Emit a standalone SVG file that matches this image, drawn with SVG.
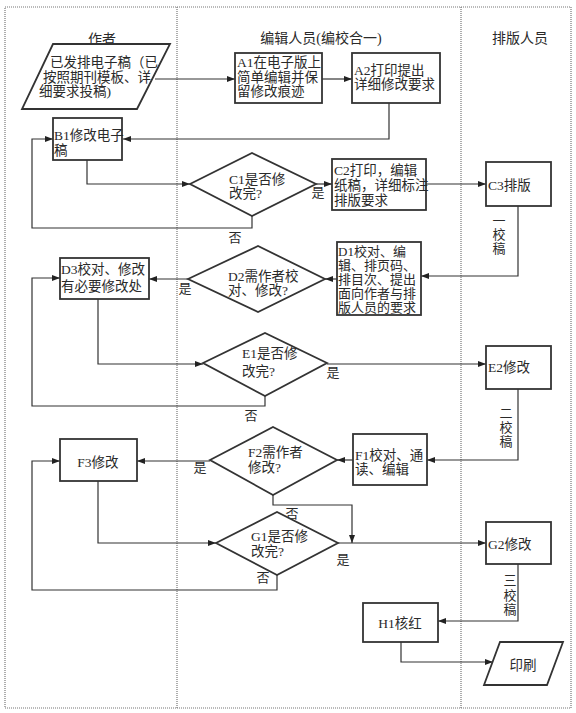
<svg xmlns="http://www.w3.org/2000/svg" width="576" height="713" viewBox="0 0 576 713">
<style>
text{font-family:"Liberation Serif","Noto Sans CJK SC",serif;font-size:13.5px;fill:#2a2a2a}
.h{font-size:14px}
.c{text-anchor:middle}
.s{font-size:13px}
.box{fill:#fff;stroke:#333;stroke-width:1.8}
.lane{fill:none;stroke:#777;stroke-width:1.2;stroke-dasharray:1 1}
.ln{fill:none;stroke:#333;stroke-width:1.2}
.lb{font-size:13px}
</style>
<defs>
<marker id="ah" markerWidth="8" markerHeight="6" refX="8" refY="3" orient="auto" markerUnits="userSpaceOnUse">
<path d="M0,0 L8,3 L0,6 Z" fill="#222"/>
</marker>
</defs>
<rect width="576" height="713" fill="#fff"/>
<g id="lanes">
<rect class="lane" x="5" y="7" width="566" height="701"/>
<line class="lane" x1="177" y1="7" x2="177" y2="708"/>
<line class="lane" x1="461" y1="7" x2="461" y2="708"/>
<text class="h c" x="102" y="44">作者</text>
<text class="h c" x="321" y="43">编辑人员(编校合一)</text>
<text class="h c" x="520" y="43">排版人员</text>
</g>
<g id="connectors">
<line class="ln" x1="155" y1="79" x2="235" y2="79" marker-end="url(#ah)"/>
<line class="ln" x1="322" y1="79" x2="352" y2="79" marker-end="url(#ah)"/>
<polyline class="ln" points="389,103 389,139 123,139" marker-end="url(#ah)"/>
<polyline class="ln" points="87,160 87,184 190,184" marker-end="url(#ah)"/>
<polyline class="ln" points="252,216 252,228 32,228 32,139 53,139" marker-end="url(#ah)"/>
<line class="ln" x1="316" y1="184" x2="332" y2="184" marker-end="url(#ah)"/>
<line class="ln" x1="426" y1="184" x2="486" y2="184" marker-end="url(#ah)"/>
<polyline class="ln" points="518,206 518,276 421,276" marker-end="url(#ah)"/>
<line class="ln" x1="337" y1="279" x2="325" y2="279" marker-end="url(#ah)"/>
<line class="ln" x1="188" y1="279" x2="149" y2="279" marker-end="url(#ah)"/>
<polyline class="ln" points="98,299 98,364 203,364" marker-end="url(#ah)"/>
<polyline class="ln" points="265,396 265,406 32,406 32,278 60,278" marker-end="url(#ah)"/>
<line class="ln" x1="327" y1="364" x2="486" y2="364" marker-end="url(#ah)"/>
<polyline class="ln" points="518,389 518,460 427,460" marker-end="url(#ah)"/>
<line class="ln" x1="353" y1="460" x2="337" y2="460" marker-end="url(#ah)"/>
<line class="ln" x1="210" y1="461" x2="137" y2="461" marker-end="url(#ah)"/>
<polyline class="ln" points="273,495 273,505 352,505 352,543" marker-end="url(#ah)"/>
<polyline class="ln" points="98,481 98,543 216,543" marker-end="url(#ah)"/>
<polyline class="ln" points="277,575 277,590 32,590 32,461 60,461" marker-end="url(#ah)"/>
<line class="ln" x1="338" y1="543" x2="486" y2="543" marker-end="url(#ah)"/>
<polyline class="ln" points="518,564 518,621 438,621" marker-end="url(#ah)"/>
<polyline class="ln" points="401,642 401,662 493,662" marker-end="url(#ah)"/>
<text class="lb c" x="318" y="197">是</text>
<text class="lb c" x="235" y="242">否</text>
<text class="lb c" x="185" y="293">是</text>
<text class="lb c" x="333" y="377">是</text>
<text class="lb c" x="251" y="420">否</text>
<text class="lb c" x="200" y="472">是</text>
<text class="lb c" x="292" y="518">否</text>
<text class="lb c" x="343" y="564">是</text>
<text class="lb c" x="263" y="582">否</text>
<text class="lb c" x="499" y="225">一</text>
<text class="lb c" x="499" y="239">校</text>
<text class="lb c" x="499" y="253">稿</text>
<text class="lb c" x="506" y="418">二</text>
<text class="lb c" x="506" y="432">校</text>
<text class="lb c" x="506" y="446">稿</text>
<text class="lb c" x="510" y="585">三</text>
<text class="lb c" x="510" y="600">校</text>
<text class="lb c" x="510" y="614">稿</text>
</g>
<g id="start">
<polygon class="box" points="53,44 170,44 137,109 22,109"/>
<text x="50" y="67">已发排电子稿（已</text>
<text x="43" y="82">按照期刊模板、详</text>
<text x="39" y="96">细要求投稿)</text>
</g>
<g id="A1">
<rect class="box" x="235" y="53" width="87" height="50"/>
<text x="237" y="67">A1在电子版上</text>
<text x="237" y="82">简单编辑并保</text>
<text x="237" y="96">留修改痕迹</text>
</g>
<g id="A2">
<rect class="box" x="352" y="53" width="88" height="50"/>
<text x="354" y="75">A2打印提出</text>
<text x="354" y="89">详细修改要求</text>
</g>
<g id="B1">
<rect class="box" x="53" y="118" width="69" height="42"/>
<text x="54" y="140">B1修改电子</text>
<text x="54" y="155">稿</text>
</g>
<g id="C1">
<polygon class="box" points="190,184 252,153 316,184 252,216"/>
<text x="229" y="184">C1是否修</text>
<text x="229" y="198">改完?</text>
</g>
<g id="C2">
<rect class="box" x="332" y="159" width="94" height="51"/>
<text x="334" y="175">C2打印，编辑</text>
<text x="334" y="190">纸稿，详细标注</text>
<text x="334" y="205">排版要求</text>
</g>
<g id="C3">
<rect class="box" x="486" y="162" width="65" height="44"/>
<text x="488" y="190">C3排版</text>
</g>
<g id="D1">
<rect class="box" x="337" y="242" width="84" height="73"/>
<text class="s" x="338" y="256">D1校对、编</text>
<text class="s" x="338" y="270">辑、排页码、</text>
<text class="s" x="338" y="284">排目次、提出</text>
<text class="s" x="338" y="298">面向作者与排</text>
<text class="s" x="338" y="312">版人员的要求</text>
</g>
<g id="D2">
<polygon class="box" points="188,279 258,246 325,279 258,312"/>
<text x="228" y="281">D2需作者校</text>
<text x="228" y="295">对、修改?</text>
</g>
<g id="D3">
<rect class="box" x="60" y="258" width="89" height="41"/>
<text x="61" y="274">D3校对、修改</text>
<text x="61" y="291">有必要修改处</text>
</g>
<g id="E1">
<polygon class="box" points="203,363 265,333 327,363 265,396"/>
<text x="242" y="358">E1是否修</text>
<text x="242" y="376">改完?</text>
</g>
<g id="E2">
<rect class="box" x="486" y="346" width="65" height="43"/>
<text x="488" y="372">E2修改</text>
</g>
<g id="F1">
<rect class="box" x="353" y="434" width="74" height="51"/>
<text x="355" y="460">F1校对、通</text>
<text x="355" y="474">读、编辑</text>
</g>
<g id="F2">
<polygon class="box" points="210,460 273,427 337,460 273,495"/>
<text x="248" y="457">F2需作者</text>
<text x="248" y="472">修改?</text>
</g>
<g id="F3">
<rect class="box" x="60" y="439" width="77" height="42"/>
<text class="c" x="98" y="467">F3修改</text>
</g>
<g id="G1">
<polygon class="box" points="216,543 277,512 338,543 277,575"/>
<text x="251" y="541">G1是否修</text>
<text x="251" y="556">改完?</text>
</g>
<g id="G2">
<rect class="box" x="486" y="522" width="65" height="42"/>
<text x="488" y="549">G2修改</text>
</g>
<g id="H1">
<rect class="box" x="363" y="603" width="75" height="39"/>
<text class="c" x="400" y="628">H1核红</text>
</g>
<g id="print">
<polygon class="box" points="500,642 563,642 547,685 484,685"/>
<text class="c" x="523" y="670">印刷</text>
</g>
</svg>
